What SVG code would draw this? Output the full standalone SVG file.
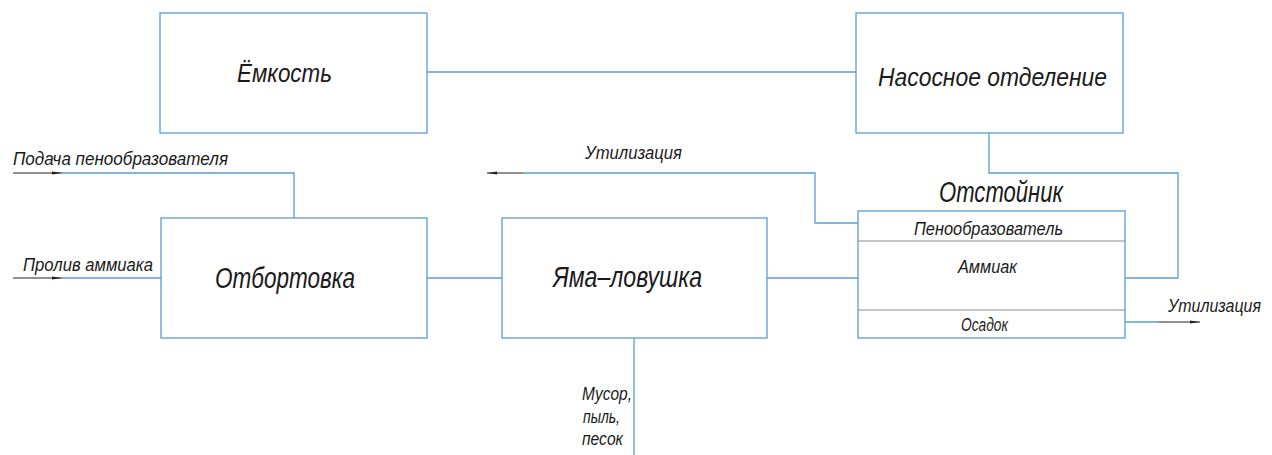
<svg xmlns="http://www.w3.org/2000/svg" width="1272" height="455" viewBox="0 0 1272 455">
<defs>
<style>
.box{fill:#fff;stroke:#5b9bd5;stroke-width:1.3}
.c{fill:none;stroke:#5b9bd5;stroke-width:1.3}
.blk{fill:none;stroke:#222;stroke-width:1}
.div{stroke:#8a8a8a;stroke-width:1}
text{font-family:"Liberation Sans",Arial,sans-serif;font-style:italic;fill:#1a1a1a}
.big{font-size:30px}
.mid{font-size:26px}
.sm{font-size:18px}
</style>
<marker id="ah" viewBox="0 0 10 6" refX="10" refY="3" markerWidth="10" markerHeight="6" markerUnits="userSpaceOnUse" orient="auto">
<path d="M0,1.5 L10,3 L0,4.5 Z" fill="#222"/>
</marker>
</defs>
<rect width="1272" height="455" fill="#fff"/>
<g id="connectors">
<line class="c" x1="427" y1="72" x2="856" y2="72"/>
<polyline class="c" points="989,133 989,173 1178,173 1178,278 1125,278"/>
<line class="c" x1="767" y1="278" x2="858" y2="278"/>
<line class="c" x1="427" y1="278" x2="502" y2="278"/>
<polyline class="c" points="858,223 815,223 815,173 523,173"/>
<line class="blk" x1="523" y1="173" x2="487" y2="173" marker-end="url(#ah)"/>
<polyline class="c" points="62,173 294,173 294,218"/>
<line class="blk" x1="13" y1="173" x2="62" y2="173" marker-end="url(#ah)"/>
<line class="c" x1="62" y1="278" x2="161" y2="278"/>
<line class="blk" x1="13" y1="278" x2="62" y2="278" marker-end="url(#ah)"/>
<line class="c" x1="1125" y1="322" x2="1158" y2="322"/>
<line class="blk" x1="1158" y1="322" x2="1200" y2="322" marker-end="url(#ah)"/>
<line class="c" x1="634" y1="338" x2="634" y2="455"/>
</g>
<g id="emkost">
<rect class="box" x="160" y="13" width="267" height="120"/>
<text class="mid" x="237" y="82" textLength="95" lengthAdjust="spacingAndGlyphs">Ёмкость</text>
</g>
<g id="nasos">
<rect class="box" x="856" y="13" width="267" height="120"/>
<text class="mid" x="878" y="86" textLength="229" lengthAdjust="spacingAndGlyphs">Насосное отделение</text>
</g>
<g id="otbortovka">
<rect class="box" x="161" y="218" width="266" height="120"/>
<text class="big" x="215" y="288" textLength="140" lengthAdjust="spacingAndGlyphs">Отбортовка</text>
</g>
<g id="yama">
<rect class="box" x="502" y="218" width="265" height="120"/>
<text class="big" x="553" y="287" textLength="149" lengthAdjust="spacingAndGlyphs">Яма–ловушка</text>
</g>
<g id="otstoynik">
<text class="big" x="939" y="202" textLength="124" lengthAdjust="spacingAndGlyphs">Отстойник</text>
<rect class="box" x="858" y="211" width="267" height="127"/>
<line class="div" x1="858" y1="241" x2="1125" y2="241"/>
<line class="div" x1="858" y1="310" x2="1125" y2="310"/>
<text class="sm" x="914" y="235" textLength="149" lengthAdjust="spacingAndGlyphs">Пенообразователь</text>
<text class="sm" x="958" y="273" textLength="59" lengthAdjust="spacingAndGlyphs">Аммиак</text>
<text class="sm" x="961" y="331" textLength="47" lengthAdjust="spacingAndGlyphs">Осадок</text>
</g>
<g id="labels">
<text class="sm" x="13" y="165" textLength="215" lengthAdjust="spacingAndGlyphs">Подача пенообразователя</text>
<text class="sm" x="23" y="271" textLength="130" lengthAdjust="spacingAndGlyphs">Пролив аммиака</text>
<text class="sm" x="585" y="159" textLength="97" lengthAdjust="spacingAndGlyphs">Утилизация</text>
<text class="sm" x="1168" y="312" textLength="93" lengthAdjust="spacingAndGlyphs">Утилизация</text>
<text class="sm" x="582" y="400" textLength="50" lengthAdjust="spacingAndGlyphs">Мусор,</text>
<text class="sm" x="583" y="423" textLength="37" lengthAdjust="spacingAndGlyphs">пыль,</text>
<text class="sm" x="582" y="445" textLength="41" lengthAdjust="spacingAndGlyphs">песок</text>
</g>
</svg>
